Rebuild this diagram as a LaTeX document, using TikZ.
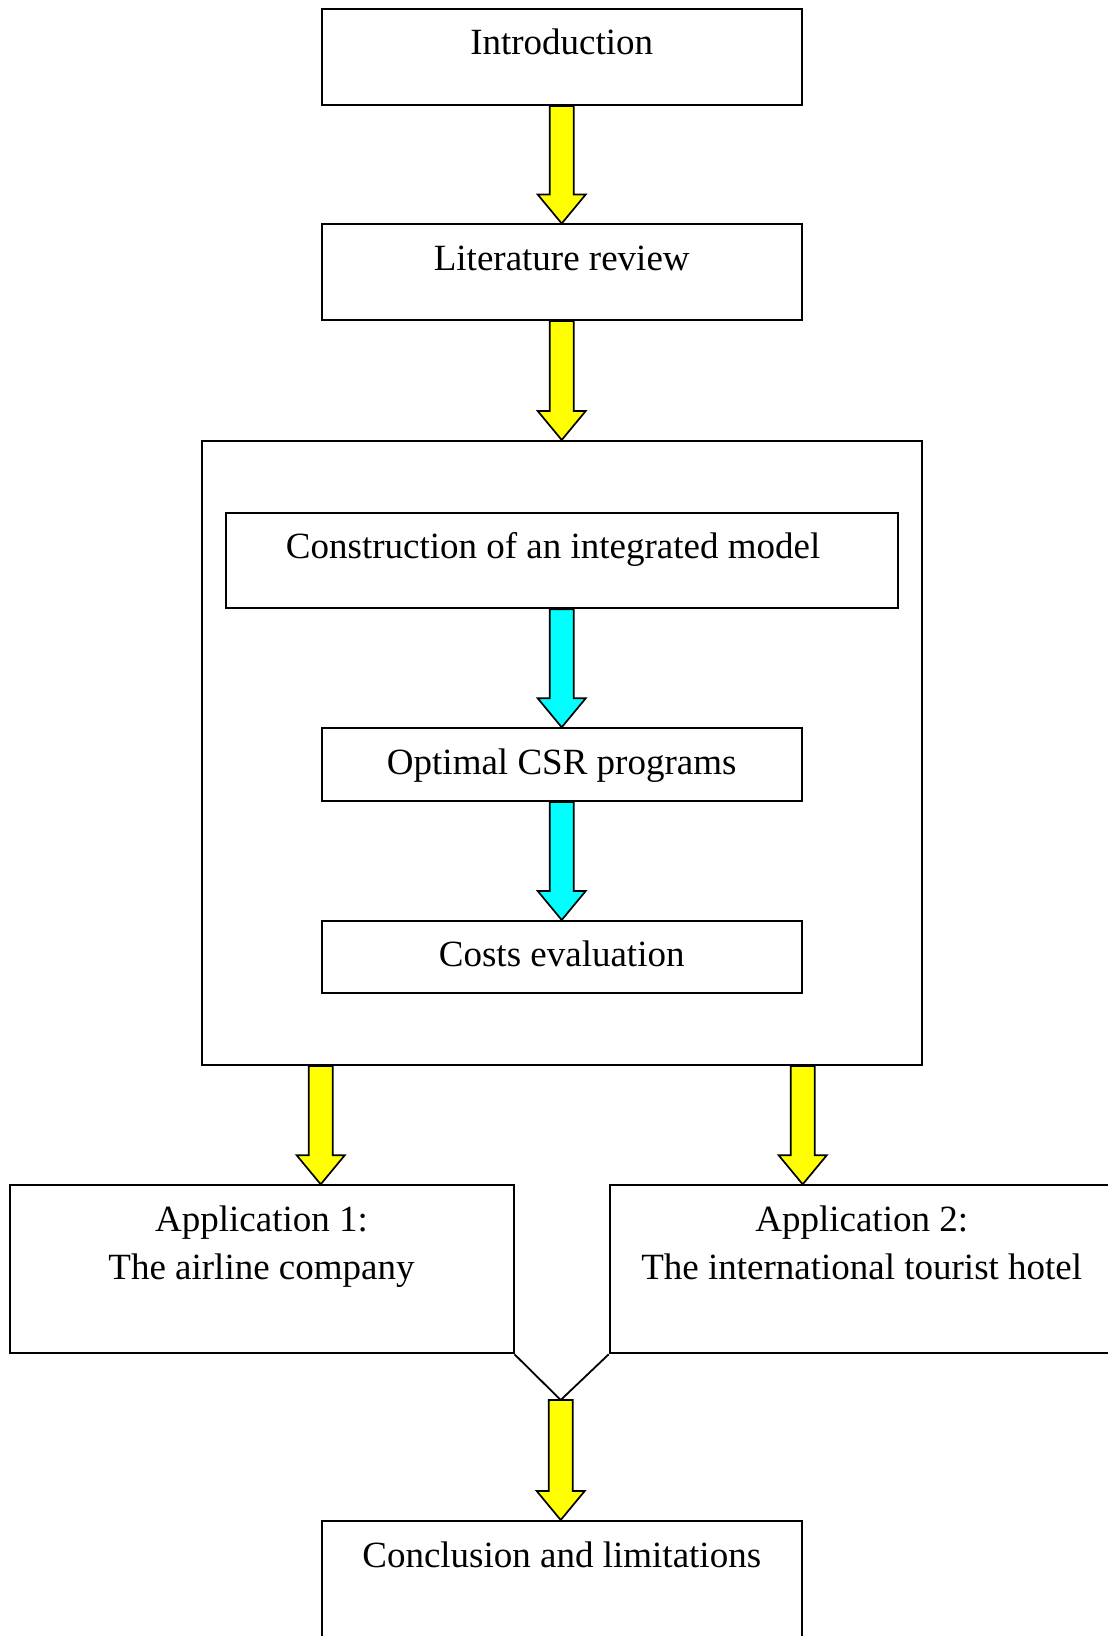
\documentclass[tikz,border=0pt]{standalone}
\usepackage{fontspec}
\setmainfont{Liberation Serif}
\usetikzlibrary{calc}
\definecolor{ayellow}{RGB}{255,255,0}
\definecolor{acyan}{RGB}{0,255,255}
\tikzset{
  box/.style={draw=black, line width=1pt, fill=white, rectangle, inner sep=0pt, anchor=north west},
  lbl/.style={anchor=base, inner sep=0pt, font=\fontsize{18.5pt}{23.85pt}\selectfont},
  barrowline/.style={draw=black, line width=0.85pt, line join=miter},
  vline/.style={draw=black, line width=0.9pt}
}
\newcommand\blockarrow[3]{%
  \path[barrowline, fill=#3] let \p1=(#1), \p2=(#2) in
    (\x1-6pt,\y1) -- (\x1-6pt,\y2+14.5pt) -- (\x1-12pt,\y2+14.5pt) -- (\x1,\y2)
    -- (\x1+12pt,\y2+14.5pt) -- (\x1+6pt,\y2+14.5pt) -- (\x1+6pt,\y1) -- cycle;}
\begin{document}
\begin{tikzpicture}[x=0.5pt, y=-0.5pt]
\useasboundingbox (0,0) rectangle (1107,1636);
\fill[white] (0,0) rectangle (1107,1636);

% boxes
\node[box, minimum width=240pt, minimum height=48pt] (intro) at (320.7,8) {};
\node[box, minimum width=240pt, minimum height=47.75pt] (lit) at (320.7,223.5) {};
\node[box, minimum width=360pt, minimum height=312pt] (big) at (200.7,440) {};
\node[box, minimum width=336pt, minimum height=47.5pt] (constr) at (224.6,512.3) {};
\node[box, minimum width=240pt, minimum height=36.35pt] (opt) at (320.7,727.3) {};
\node[box, minimum width=240pt, minimum height=36pt] (costs) at (320.7,920) {};
\node[box, minimum width=252pt, minimum height=84pt] (app1) at (8.5,1184.3) {};
\node[box, minimum width=252pt, minimum height=84pt] (app2) at (608.7,1184.3) {};
\node[box, minimum width=240pt, minimum height=100pt] (concl) at (320.7,1520) {};

% texts
\node[lbl] (introT) at ($(intro.north)+(0,47)$) {Introduction};
\node[lbl] (litT) at ($(lit.north)+(0,47)$) {Literature review};
\node[lbl] (constrT) at ($(constr.north)+(-8.5,46.5)$) {Construction of an integrated model};
\node[lbl] (optT) at ($(opt.north)+(0,47.5)$) {Optimal CSR programs};
\node[lbl] (costsT) at ($(costs.north)+(0,46.7)$) {Costs evaluation};
\node[lbl] (app1T) at ($(app1.north)+(0,47.4)$) {Application 1:};
\node[lbl] (app1U) at ($(app1.north)+(0,95)$) {The airline company};
\node[lbl] (app2T) at ($(app2.north)+(0,47.4)$) {Application 2:};
\node[lbl] (app2U) at ($(app2.north)+(0,95)$) {The international tourist hotel};
\node[lbl] (conclT) at ($(concl.north)+(0,47.3)$) {Conclusion and limitations};

% connectors
\blockarrow{intro.south}{lit.north}{ayellow}
\blockarrow{lit.south}{big.north}{ayellow}
\blockarrow{constr.south -| opt.north}{opt.north}{acyan}
\blockarrow{opt.south}{costs.north}{acyan}
\blockarrow{big.south -| costs.west}{app1.north -| costs.west}{ayellow}
\blockarrow{big.south -| costs.east}{app2.north -| costs.east}{ayellow}
\coordinate (vtip) at (560.7,1400);
\draw[vline] (app1.south east) -- (vtip) -- (app2.south west);
\blockarrow{vtip}{concl.north}{ayellow}
\end{tikzpicture}
\end{document}
